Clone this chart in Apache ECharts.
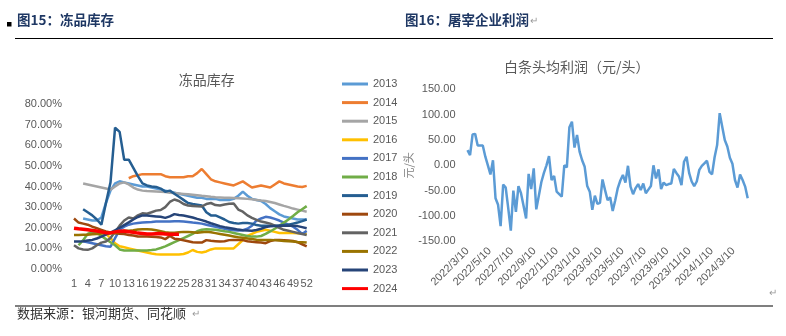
<!DOCTYPE html>
<html>
<head>
<meta charset="utf-8">
<script src="https://cdn.jsdelivr.net/npm/echarts@6/dist/echarts.min.js"></script>
<style>
  html, body { margin: 0; padding: 0; background: #fff; }
  #chart { width: 786px; height: 336px; }
</style>
</head>
<body>
<div id="chart"></div>
<script>
// ---- 冻品库存 (weekly frozen-product inventory ratio, %) ----
const weeks = ['1','2','3','4','5','6','7','8','9','10','11','12','13','14','15','16','17','18','19','20',
  '21','22','23','24','25','26','27','28','29','30','31','32','33','34','35','36','37','38','39','40',
  '41','42','43','44','45','46','47','48','49','50','51','52'];
const yearNames = ['2013','2014','2015','2016','2017','2018','2019','2020','2021','2022','2023','2024'];
const yearColors = ['#5B9BD5','#ED7D31','#A5A5A5','#FFC000','#4472C4','#70AD47','#255E91','#9E480E','#636363','#997300','#264478','#FF0000'];
const pctTicks = [0, 10, 20, 30, 40, 50, 60, 70, 80];

const inv2013 = [null,null,24.5,24,23.5,23.5,25,32,38,41.5,42.5,42,41.5,41,40.5,40,40,39.5,39,38.5,38,37.5,37,36.5,36,35.5,35,34.5,34.5,34,34,34,33.5,33.5,33.5,34,35.5,37.5,35.5,34,33.5,33,31.5,29.5,28,26.5,25.5,25,24.5,24,24,24];
const inv2014 = [null,null,null,null,null,null,null,null,null,null,null,null,44,45,45.5,46,46,46,46,46,45,44.5,44.5,44.5,44.5,45,45,46.5,48.5,46,43.5,42.5,42,41.5,41,40.5,41.5,42.5,41,39.5,40,40.5,40,39.5,41,42.5,41.5,41,40.5,40,39.8,40.3];
const inv2015 = [null,null,41.5,41,40.5,40,39.5,39,38.5,40,41.5,42,41,39.5,38.5,38,37.8,37.7,37.6,37.5,37.3,37,36.8,36.6,36.4,36.2,36,35.8,35.5,35.3,35,34.8,34.7,34.6,34.5,34.4,34.3,34.2,34,33.8,33.5,33.2,33,32.5,32,31.3,30.6,30,29.3,28.8,28.3,27.8];
const inv2016 = [null,null,null,null,null,17,17.5,17,15,12.5,11,10.5,10,9.5,9,8.5,8,7.5,7.2,7,7,7,7,7,7.3,8,9.2,8.3,8,8.5,9.5,10,10,10,10,10,12,14,16,17,18,18.5,19,18.5,18,17.5,17.5,17.5,17.5,17.3,17.2,17];
const inv2017 = [null,null,13.5,13,12.5,12,11.5,11,10.8,15,19,20.5,21.5,22,22.3,22.5,22.7,22.8,23,23,23,23,23.2,23.2,23,22.8,22.5,22.3,22,21.5,21,20.5,20,19.5,19,18.8,18.7,18.8,19.5,21,23.5,24.5,25.3,25,24.3,23.5,22.5,21.5,20.5,19,17,18.5];
const inv2018 = [null,11.5,14,17,18,17.5,16,14.5,13,11.5,9.5,9,9,9,9,9,9,9.2,9.5,10.2,11,12,13,14,15,16,17,18.3,19,19.3,19.2,19,18.7,18.3,18,17.5,17,16.5,16,15.7,15.7,16,17,18.2,19.5,21,22.5,24,25.7,27.5,29,30.5];
const inv2019 = [null,null,29,27.5,26,24,21.5,32,42,68.5,66.5,53,53,49,45,41.5,40.5,40,39.8,39,37.5,38,36.5,35,33.5,32,31.5,31.2,30.8,27.5,26,26,25,24,22.8,22.3,22,22.3,22.3,22,21.3,21,21,21,21,21,21.3,21.5,22,22.5,23.2,24];
const inv2020 = [24.5,22.5,22,21.5,20.5,19.8,19,18.2,17.7,17.3,17.1,17,16.5,16.2,15.8,15.7,15.7,15.6,15.5,15.3,14.5,16,14.7,14.4,13.9,13.5,13,12.8,12.8,14,13.7,13.5,13.3,13.5,14,14.1,14.1,14,13.5,13.2,13,12.8,12.5,13.5,14.1,14.1,14,13.8,13.6,13,12,11];
const inv2021 = [11.5,10,9.5,9.3,10,11.5,12.8,13.3,15,18,21,23.5,25,24.5,26,27,26.8,27.5,28.3,28.6,30,32.5,33.7,33,31.5,30.8,30.6,30.4,30.3,31.5,32,31,30.8,31.3,31.6,31.8,28.8,27.8,26,24.8,23.8,23,22.5,22,21,20,19,18.5,18,17.5,17,16.5];
const inv2022 = [16.5,16.5,16.6,16.6,16.8,17,17.2,17.3,17.3,17.5,18,18.5,18.6,18.8,19.2,19.3,19.3,19.2,18.8,18.3,17.8,17.6,17.6,17.8,18,18,17.8,17.6,17.8,18,17.8,17.4,17,16.6,16.2,15.8,15.4,15.1,14.8,14.5,14.2,14.1,14.1,14.1,14,13.8,13.6,13.5,13.3,13.1,13,12.8];
const inv2023 = [13.3,13.3,13.5,13.8,14.1,14.8,15.7,16.7,17.6,18.8,20,21.3,22.6,24,25.2,26,25.9,25.7,25.5,25.3,24.8,25.5,26.6,26.2,25.9,25.5,25,24.3,23.7,23,22.2,21.5,20.8,20.3,19.9,19.5,19.1,18.8,18.7,18.6,18.9,19.5,20.3,20.7,20.9,21,21,21,21,20.8,20.3,19.8];
const inv2024 = [19.8,19.5,19.3,19,18.7,18.4,18,17.6,17.5,18,18.3,18.4,18.1,17.8,17.4,17.2,17,17,17.1,17.2,17,16.8,16.8,16.9];
const inventorySeries = [inv2013, inv2014, inv2015, inv2016, inv2017, inv2018, inv2019, inv2020, inv2021, inv2022, inv2023, inv2024];

// ---- 白条头均利润 (weekly slaughter profit, 元/头), first week 2022/3/10 ----
const profitStart = '2022-03-10';
const profitEnd = '2024-04-18';
const profitTicks = [-150, -100, -50, 0, 50, 100, 150];
const dateTicks = ['2022-03-10','2022-05-10','2022-07-10','2022-09-10','2022-11-10','2023-01-10','2023-03-10',
  '2023-05-10','2023-07-10','2023-09-10','2023-11-10','2024-01-10','2024-03-10'];
const profit = [30,20,61,62,39,39,39,17,0,-18,10,-65,-78,-120,-38,-44,-85,-129,-50,-92,-41,-55,-80,-105,-17,-47,-6,-87,-60,-33,
  -15,0,18,-29,-21,-52,-57,-62,0,-4,75,86,35,60,27,10,-3,-41,-52,-88,-60,-76,-74,-28,-49,-69,-63,-90,-69,-45,
  -30,-19,-34,-1,-42,-57,-45,-37,-49,-36,-55,-48,-41,0,-26,-8,-47,-34,-39,-37,-36,-7,-15,-22,-39,7,17,-15,-32,-41,
  -32,-9,-1,4,9,-13,-18,16,40,103,76,50,37,15,3,-29,-44,-18,-29,-42,-65];

const DAY = 86400000;
const toTime = s => Date.parse(s + 'T00:00:00Z');
const startT = toTime(profitStart);
const profitData = profit.map((v, i) => [startT + i * 7 * DAY, v]);

const labelColor = '#595959';
const numFont = '"Liberation Sans", Arial, sans-serif';
const cjkFont = '"Noto Sans CJK SC", sans-serif';

const invSeries = yearNames.map((name, k) => ({
  name,
  type: 'line',
  xAxisIndex: 0,
  yAxisIndex: 0,
  data: inventorySeries[k],
  symbol: 'none',
  connectNulls: false,
  lineStyle: { width: name === '2024' ? 3.5 : 2.5, color: yearColors[k] },
  itemStyle: { color: yearColors[k] },
  z: name === '2024' ? 5 : 2
}));

const chart = echarts.init(document.getElementById('chart'), null, { renderer: 'canvas' });
chart.setOption({
  animation: false,
  backgroundColor: '#fff',
  grid: [
    { left: 74, top: 104, width: 232.7, height: 165 },
    { left: 467.5, top: 89.3, width: 280.2, height: 152 }
  ],
  legend: {
    data: yearNames,
    orient: 'vertical',
    left: 337,
    top: 72,
    icon: 'rect',
    itemWidth: 26,
    itemHeight: 3,
    itemGap: 4.6,
    textStyle: { color: labelColor, fontSize: 11, fontFamily: numFont, lineHeight: 14 }
  },
  xAxis: [
    {
      type: 'category',
      gridIndex: 0,
      data: weeks,
      boundaryGap: false,
      axisLine: { show: false },
      axisTick: { show: false },
      axisLabel: { interval: 2, color: labelColor, fontSize: 11, fontFamily: numFont, margin: 9 },
      splitLine: { show: false }
    },
    {
      type: 'value',
      gridIndex: 1,
      min: startT,
      max: toTime(profitEnd),
      axisLine: { show: false },
      axisTick: { show: false },
      splitLine: { show: false },
      axisLabel: {
        customValues: dateTicks.map(toTime),
        rotate: 45,
        color: labelColor,
        fontSize: 11,
        fontFamily: numFont,
        margin: 8,
        formatter: v => {
          const d = new Date(v);
          return d.getUTCFullYear() + '/' + (d.getUTCMonth() + 1) + '/' + d.getUTCDate();
        }
      }
    }
  ],
  yAxis: [
    {
      type: 'value',
      gridIndex: 0,
      min: pctTicks[0],
      max: pctTicks[pctTicks.length - 1],
      interval: 10,
      axisLine: { show: false },
      axisTick: { show: false },
      splitLine: { show: false },
      axisLabel: { color: labelColor, fontSize: 11, fontFamily: numFont, margin: 12, formatter: v => v.toFixed(2) + '%' }
    },
    {
      type: 'value',
      gridIndex: 1,
      min: profitTicks[0],
      max: profitTicks[profitTicks.length - 1],
      interval: 50,
      name: '元/头',
      nameLocation: 'middle',
      nameRotate: 90,
      nameGap: 52,
      nameTextStyle: { color: '#7f7f7f', fontSize: 11, fontFamily: cjkFont },
      axisLine: { show: false },
      axisTick: { show: false },
      splitLine: { show: false },
      axisLabel: { color: labelColor, fontSize: 11, fontFamily: numFont, margin: 12, formatter: v => v.toFixed(2) }
    }
  ],
  series: invSeries.concat([{
    name: '白条头均利润',
    type: 'line',
    xAxisIndex: 1,
    yAxisIndex: 1,
    data: profitData,
    symbol: 'none',
    lineStyle: { width: 2.5, color: '#5B9BD5' }
  }]),
  graphic: [
    { type: 'rect', shape: { x: 7, y: 22, width: 4.5, height: 4.5 }, style: { fill: '#000' } },
    { type: 'text', x: 17, y: 20, style: { text: '图15：冻品库存', font: 'bold 13.5px ' + cjkFont, fill: '#1F3864', verticalAlign: 'middle' } },
    { type: 'text', x: 405, y: 20, style: { text: '图16：屠宰企业利润', font: 'bold 13.5px ' + cjkFont, fill: '#1F3864', verticalAlign: 'middle' } },
    { type: 'text', x: 530, y: 20, style: { text: '↵', font: '10px ' + cjkFont, fill: '#999', verticalAlign: 'middle' } },
    { type: 'line', shape: { x1: 15, y1: 38.5, x2: 773, y2: 38.5 }, style: { stroke: '#000', lineWidth: 1.2 } },
    { type: 'line', shape: { x1: 15, y1: 306, x2: 773, y2: 306 }, style: { stroke: '#000', lineWidth: 1.2 } },
    { type: 'text', x: 17, y: 313, style: { text: '数据来源：银河期货、同花顺', font: '13px ' + cjkFont, fill: '#333', verticalAlign: 'middle' } },
    { type: 'text', x: 192, y: 313, style: { text: '↵', font: '10px ' + cjkFont, fill: '#999', verticalAlign: 'middle' } },
    { type: 'text', x: 769, y: 292, style: { text: '↵', font: '10px ' + cjkFont, fill: '#999', verticalAlign: 'middle' } },
    { type: 'text', x: 206.7, y: 80, style: { text: '冻品库存', font: '14px ' + cjkFont, fill: labelColor, align: 'center', verticalAlign: 'middle' } },
    { type: 'text', x: 576.7, y: 67, style: { text: '白条头均利润（元/头）', font: '14px ' + cjkFont, fill: labelColor, align: 'center', verticalAlign: 'middle' } }
  ]
});
</script>
</body>
</html>
